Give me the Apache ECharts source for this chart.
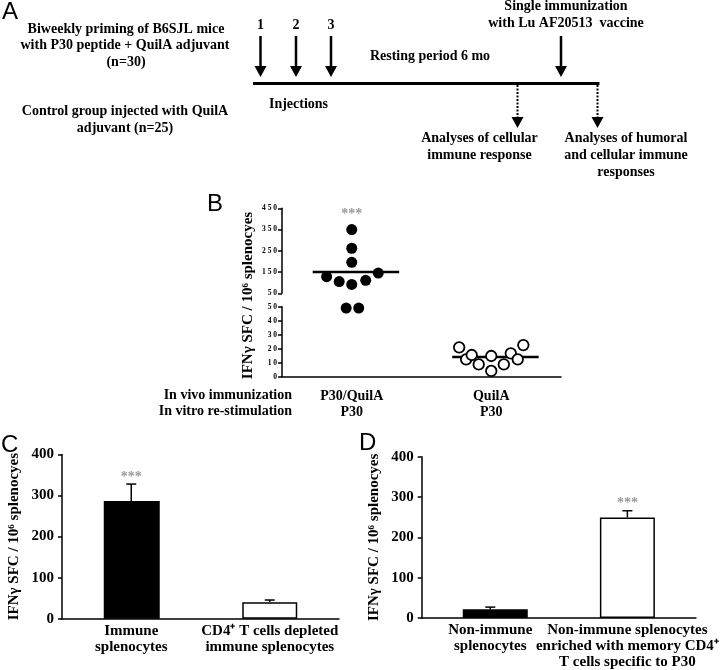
<!DOCTYPE html>
<html>
<head>
<meta charset="utf-8">
<script src="https://cdn.jsdelivr.net/npm/echarts@6/dist/echarts.min.js"></script>
<style>html,body{margin:0;padding:0;background:#fff}#main{width:720px;height:670px}</style>
</head>
<body>
<div id="main"></div>
<script>
// ---------- DATA ----------
// Panel A (schematic text)
const aLeftTexts = ['Biweekly priming of B6SJL mice', 'with P30 peptide + QuilA adjuvant', '(n=30)', 'Control group injected with QuilA', 'adjuvant (n=25)'];
const aInjNumbers = ['1', '2', '3'];
const aTimelineTexts = ['Resting period 6 mo', 'Injections', 'Single immunization', 'with Lu AF20513  vaccine'];
const aAnalysis1 = ['Analyses of cellular', 'immune response'];
const aAnalysis2 = ['Analyses of humoral', 'and cellular immune', 'responses'];
// Panel B
const bCategories = ['P30/QuilA\nP30', 'QuilA\nP30'];
const bRowHeads = ['In vivo immunization', 'In vitro re-stimulation'];
const bP30X = [0.50, 0.50, 0.50, 0.32, 0.41, 0.50, 0.60, 0.69, 0.46, 0.55];
const bP30Y = [350, 262, 196, 128, 105, 92, 111, 145, 49, 49];
const bQuilX = [1.27, 1.32, 1.36, 1.41, 1.50, 1.50, 1.59, 1.64, 1.69, 1.73];
const bQuilY = [21, 12.4, 15.5, 8.8, 14.8, 4.1, 8.8, 16.7, 12.4, 22.6];
const bMedians = [150, 14];
const bBreak = 50;
const bUpperTicks = [50, 450, 100];   // min, max, interval
const bLowerTicks = [0, 50, 10];
// Panel C
const cCategories = ['Immune\nsplenocytes', 'CD4\u207A T cells depleted\nimmune splenocytes'];
const cMeans = [287, 40];
const cErrors = [41, 5.5];
// Panel D
const dCategories = ['Non-immune\nsplenocytes', 'Non-immune splenocytes\nenriched with memory CD4\u207A\nT cells specific to P30'];
const dMeans = [21.5, 249.5];
const dErrors = [5.5, 16.5];
const cdTicks = [0, 400, 100];
const yTitleB = 'IFN\u03B3 SFC / 10\u2076 splenocyes';
const yTitleCD = 'IFN\u03B3 SFC / 10\u2076 splenocyes';
const sigMark = '***';

// ---------- STYLE ----------
const SERIF = "'Liberation Serif', 'Times New Roman', serif";
const SANS = "'Liberation Sans', Arial, sans-serif";
const txt = (x, y, text, opt) => Object.assign({
  type: 'text', x: x, y: y, silent: true,
  style: Object.assign({ text: text, font: 'bold 14px ' + SERIF, fill: '#000', textAlign: 'center', textVerticalAlign: 'middle' }, (opt && opt.style) || {})
}, (opt && opt.el) || {});
const arrow = (x, y1, y2, dashed) => [
  { type: 'line', silent: true, shape: { x1: x, y1: y1, x2: x, y2: y2 - 9 }, style: { stroke: '#000', lineWidth: dashed ? 2 : 2.5, lineDash: dashed ? [2, 1.5] : null } },
  { type: 'polygon', silent: true, shape: { points: [[x - 6, y2 - 11], [x + 6, y2 - 11], [x, y2]] }, style: { fill: '#000' } }
];

const graphics = [];
// panel letters
graphics.push(txt(2, 12, 'A', { style: { font: '24px ' + SANS, textAlign: 'left' } }));
graphics.push(txt(207, 204, 'B', { style: { font: '24px ' + SANS, textAlign: 'left' } }));
graphics.push(txt(1, 445, 'C', { style: { font: '24px ' + SANS, textAlign: 'left' } }));
graphics.push(txt(359, 443, 'D', { style: { font: '24px ' + SANS, textAlign: 'left' } }));
// Panel A left texts
const aLeftPos = [[126, 29.5], [125, 45.5], [126, 62], [125, 111], [125, 128.5]];
aLeftTexts.forEach((t, i) => graphics.push(txt(aLeftPos[i][0], aLeftPos[i][1], t)));
// timeline
graphics.push({ type: 'line', silent: true, shape: { x1: 253, y1: 83.5, x2: 599.5, y2: 83.5 }, style: { stroke: '#000', lineWidth: 3 } });
const injX = [260.5, 296, 331];
aInjNumbers.forEach((t, i) => { graphics.push(txt(injX[i], 25, t)); graphics.push(...arrow(injX[i], 36, 77, false)); });
graphics.push(txt(430, 56, aTimelineTexts[0]));
graphics.push(txt(298.5, 104.5, aTimelineTexts[1]));
graphics.push(txt(566, 6, aTimelineTexts[2]));
graphics.push(txt(566, 23, aTimelineTexts[3]));
graphics.push(...arrow(561, 36, 77, false));
graphics.push(...arrow(517.5, 85, 128, true));
graphics.push(...arrow(597.5, 85, 128, true));
aAnalysis1.forEach((t, i) => graphics.push(txt(479.5, 138 + i * 17.3, t)));
aAnalysis2.forEach((t, i) => graphics.push(txt(626, 138 + i * 17.3, t)));
// Panel B row heads and y title
bRowHeads.forEach((t, i) => graphics.push(txt(292, 395.5 + i * 16, t, { style: { textAlign: 'right' } })));
graphics.push(txt(248, 295.5, yTitleB, { style: { font: 'bold 15px ' + SERIF }, el: { rotation: Math.PI / 2 } }));

// ---------- helpers ----------
const axisLineStyle = { lineStyle: { color: '#000', width: 1.5 } };
function errRender(params, api) {
  const i = api.value(0), m = api.value(1), e = api.value(2);
  const p0 = api.coord([i, m]);
  const p1 = api.coord([i, m + e]);
  const hw = 5;
  return {
    type: 'group', children: [
      { type: 'line', shape: { x1: p0[0], y1: p0[1], x2: p1[0], y2: p1[1] }, style: { stroke: '#000', lineWidth: 1.5 } },
      { type: 'line', shape: { x1: p1[0] - hw, y1: p1[1], x2: p1[0] + hw, y2: p1[1] }, style: { stroke: '#000', lineWidth: 1.5 } }
    ]
  };
}
const sigLabel = { show: true, formatter: sigMark, color: '#808080', fontFamily: SERIF, fontSize: 14, fontWeight: 'bold' };

// Panel B point split
const upperP30 = [], lowerP30 = [], upperQ = [], lowerQ = [];
bP30X.forEach((x, i) => (bP30Y[i] >= bBreak ? upperP30 : lowerP30).push([x, bP30Y[i]]));
bQuilX.forEach((x, i) => (bQuilY[i] >= bBreak ? upperQ : lowerQ).push([x, bQuilY[i]]));
const medianUpper = [], medianLower = [];
bMedians.forEach((m, g) => {
  const seg = [[g + 0.22, m], [g + 0.84, m]];
  (m >= bBreak ? medianUpper : medianLower).push(seg);
});

const serifLabel = { fontFamily: SERIF, fontWeight: 'bold', color: '#000' };
const filledDot = { color: '#000', opacity: 1 };
const openDot = { color: '#fff', borderColor: '#000', borderWidth: 1.8, opacity: 1 };

const option = {
  animation: false,
  backgroundColor: '#fff',
  graphic: { elements: graphics },
  grid: [
    { left: 282, width: 279, top: 208.3, height: 85 },       // B upper
    { left: 282, width: 279, top: 306.7, height: 70 },       // B lower
    { left: 62, width: 277, top: 454.5, height: 164.2 },     // C
    { left: 421.7, width: 281.6, top: 456.7, height: 162 }   // D
  ],
  xAxis: [
    { gridIndex: 0, type: 'value', min: 0, max: 2, show: false },
    { gridIndex: 1, type: 'category', data: bCategories, axisLine: axisLineStyle, axisTick: { show: false },
      axisLabel: Object.assign({ interval: 0, fontSize: 14, lineHeight: 16, margin: 12 }, serifLabel) },
    { gridIndex: 1, type: 'value', min: 0, max: 2, show: false },
    { gridIndex: 2, type: 'category', data: cCategories, axisLine: axisLineStyle, axisTick: { show: false },
      axisLabel: Object.assign({ interval: 0, fontSize: 15, lineHeight: 16, margin: 4 }, serifLabel) },
    { gridIndex: 3, type: 'category', data: dCategories, axisLine: axisLineStyle, axisTick: { show: false },
      axisLabel: Object.assign({ interval: 0, fontSize: 15, lineHeight: 16, margin: 4 }, serifLabel) }
  ],
  yAxis: [
    { gridIndex: 0, type: 'value', min: bUpperTicks[0], max: bUpperTicks[1], interval: bUpperTicks[2],
      axisLine: Object.assign({ show: true }, axisLineStyle), axisTick: { show: true, length: 4, lineStyle: { color: '#000', width: 1.5 } },
      splitLine: { show: false },
      axisLabel: Object.assign({ fontSize: 7.5, margin: 5, formatter: v => String(v).split('').join(' ') }, serifLabel) },
    { gridIndex: 1, type: 'value', min: bLowerTicks[0], max: bLowerTicks[1], interval: bLowerTicks[2],
      axisLine: Object.assign({ show: true }, axisLineStyle), axisTick: { show: true, length: 4, lineStyle: { color: '#000', width: 1.5 } },
      splitLine: { show: false },
      axisLabel: Object.assign({ fontSize: 7.5, margin: 5, formatter: v => String(v).split('').join(' ') }, serifLabel) },
    { gridIndex: 2, type: 'value', min: cdTicks[0], max: cdTicks[1], interval: cdTicks[2],
      axisLine: Object.assign({ show: true }, axisLineStyle), axisTick: { show: true, length: 4, lineStyle: { color: '#000', width: 1.5 } },
      splitLine: { show: false },
      axisLabel: Object.assign({ fontSize: 15, margin: 8 }, serifLabel),
      name: yTitleCD, nameLocation: 'middle', nameRotate: 90, nameGap: 40,
      nameTextStyle: { fontFamily: SERIF, fontWeight: 'bold', fontSize: 15, color: '#000' } },
    { gridIndex: 3, type: 'value', min: cdTicks[0], max: cdTicks[1], interval: cdTicks[2],
      axisLine: Object.assign({ show: true }, axisLineStyle), axisTick: { show: true, length: 4, lineStyle: { color: '#000', width: 1.5 } },
      splitLine: { show: false },
      axisLabel: Object.assign({ fontSize: 15, margin: 8 }, serifLabel),
      name: yTitleCD, nameLocation: 'middle', nameRotate: 90, nameGap: 40,
      nameTextStyle: { fontFamily: SERIF, fontWeight: 'bold', fontSize: 15, color: '#000' } }
  ],
  series: [
    // ---- B ----
    { type: 'scatter', xAxisIndex: 0, yAxisIndex: 0, data: upperP30, symbolSize: 11, clip: false, z: 3, itemStyle: filledDot },
    { type: 'scatter', xAxisIndex: 2, yAxisIndex: 1, data: lowerP30, symbolSize: 11, clip: false, z: 3, itemStyle: filledDot },
    { type: 'scatter', xAxisIndex: 0, yAxisIndex: 0, data: upperQ, symbolSize: 10.5, clip: false, z: 3, itemStyle: openDot },
    { type: 'scatter', xAxisIndex: 2, yAxisIndex: 1, data: lowerQ, symbolSize: 10.5, clip: false, z: 3, itemStyle: openDot },
    ...medianUpper.map(seg => ({ type: 'line', xAxisIndex: 0, yAxisIndex: 0, data: seg, symbol: 'none', z: 1, lineStyle: { color: '#000', width: 2.5 } })),
    ...medianLower.map(seg => ({ type: 'line', xAxisIndex: 2, yAxisIndex: 1, data: seg, symbol: 'none', z: 1, lineStyle: { color: '#000', width: 2.5 } })),
    { type: 'scatter', xAxisIndex: 0, yAxisIndex: 0, data: [[0.5, bUpperTicks[1]]], symbolSize: 0, clip: false,
      label: Object.assign({ position: 'bottom', distance: -1 }, sigLabel) },
    // ---- C ----
    { type: 'bar', xAxisIndex: 3, yAxisIndex: 2, data: [cMeans[0], '-'], barWidth: 56, barGap: '-100%', itemStyle: { color: '#000', borderColor: '#000', borderWidth: 1.5 } },
    { type: 'bar', xAxisIndex: 3, yAxisIndex: 2, data: ['-', cMeans[1]], barWidth: 55, barGap: '-100%', itemStyle: { color: '#fff', borderColor: '#000', borderWidth: 1.5 } },
    { type: 'custom', xAxisIndex: 3, yAxisIndex: 2, renderItem: errRender, z: 5,
      data: cMeans.map((m, i) => [i, m, cErrors[i]]) },
    { type: 'scatter', xAxisIndex: 3, yAxisIndex: 2, symbolSize: 0,
      data: [[0, cMeans[0] + cErrors[0]]], label: Object.assign({ position: 'top', distance: 0 }, sigLabel) },
    // ---- D ----
    { type: 'bar', xAxisIndex: 4, yAxisIndex: 3, data: [dMeans[0], '-'], barWidth: 65, barGap: '-100%', itemStyle: { color: '#000', borderColor: '#000', borderWidth: 1.5 } },
    { type: 'bar', xAxisIndex: 4, yAxisIndex: 3, data: ['-', dMeans[1]], barWidth: 55, barGap: '-100%', itemStyle: { color: '#fff', borderColor: '#000', borderWidth: 1.5 } },
    { type: 'custom', xAxisIndex: 4, yAxisIndex: 3, renderItem: errRender, z: 5,
      data: dMeans.map((m, i) => [i, m, dErrors[i]]) },
    { type: 'scatter', xAxisIndex: 4, yAxisIndex: 3, symbolSize: 0,
      data: [[1, dMeans[1] + dErrors[1]]], label: Object.assign({ position: 'top', distance: 0 }, sigLabel) }
  ]
};
const chart = echarts.init(document.getElementById('main'), null, { renderer: 'canvas' });
chart.setOption(option);
</script>
</body>
</html>
